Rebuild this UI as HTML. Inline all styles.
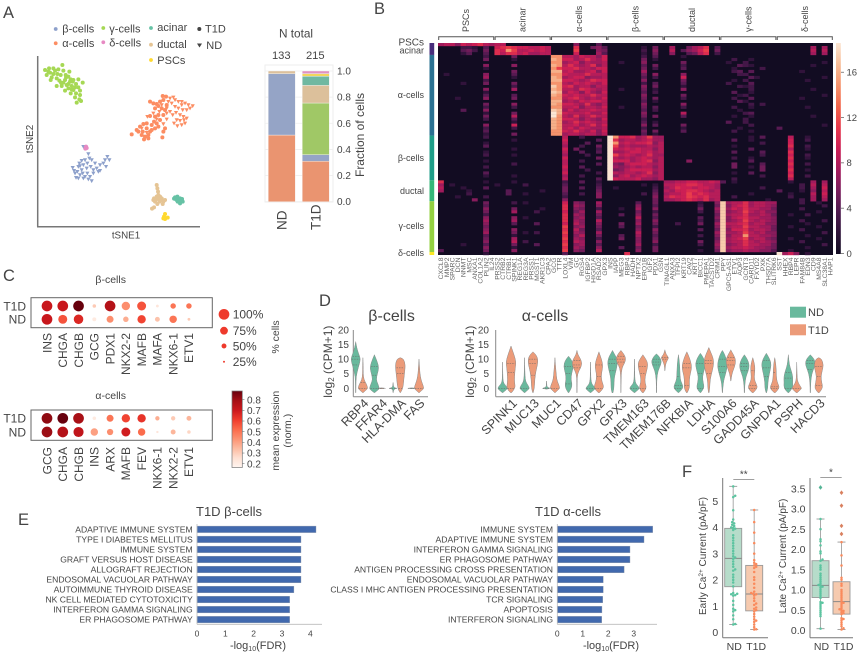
<!DOCTYPE html>
<html lang="en">
<head>
<meta charset="utf-8">
<title>Islet single-cell figure</title>
<style>
html,body{margin:0;padding:0;background:#fff;width:857px;height:656px;overflow:hidden}
svg{display:block;font-family:"Liberation Sans",Arial,sans-serif;filter:blur(0.35px)}
text{fill:#444}
</style>
</head>
<body>
<svg id="fig" xmlns="http://www.w3.org/2000/svg" width="857" height="656" viewBox="0 0 857 656"></svg>
<script>
/* ---------- Panel A : tSNE (coordinates in arbitrary tSNE units) ---------- */
const tsneGamma=[[135,210],[147,205],[150,218],[140,225],[155,232],[165,212],[175,208],[187,195],[190,212],[182,225],[170,235],[152,240],[160,222],[197,225],[205,230],[195,240],[210,245],[220,240],[248,248],[235,238],[228,252],[215,258],[200,255],[185,258],[170,258],[178,242],[190,248],[205,265],[220,270],[235,262],[228,280],[212,280],[240,285],[225,292],[238,298],[230,308],[243,303],[218,245],[208,215],[160,205],[145,215],[172,222],[195,272],[215,268],[225,262],[240,272],[198,232],[212,238],[183,248],[205,252]];
const tsneAlphaT1D=[[395,403],[410,390],[420,380],[430,372],[415,395],[428,395],[440,385],[425,405],[435,410],[445,405],[432,418],[445,415],[450,395],[440,370],[455,375],[462,365],[450,348],[465,350],[475,345],[470,370],[480,360],[490,345],[495,330],[485,325],[500,315],[490,300],[480,305],[470,312],[460,310],[450,305],[465,325],[475,318],[488,288],[498,290],[487,412],[475,380],[465,385],[455,390],[490,395],[495,385]];
const tsneAlphaND=[[510,295],[505,305],[515,310],[525,300],[535,305],[545,315],[555,310],[565,315],[578,318],[570,325],[560,330],[548,330],[535,325],[525,320],[540,345],[550,350],[560,355],[555,370],[545,375],[532,378],[522,370],[530,360],[540,362],[500,340],[510,335],[500,358],[490,372],[528,338],[518,345],[545,305],[520,292],[485,315],[500,325],[478,335],[442,350],[425,385],[440,398],[460,340],[470,358],[552,360]];
const tsneBeta=[[250,440],[265,462],[268,475],[255,480],[245,482],[238,490],[250,495],[262,490],[275,480],[285,490],[300,495],[310,490],[322,470],[328,480],[315,480],[318,500],[300,512],[272,500],[280,510],[260,505],[245,510],[235,500],[218,503],[225,520],[232,515],[240,525],[228,533],[235,535],[248,520],[255,530],[262,520],[270,530],[275,543],[265,538],[250,535],[280,520],[290,505],[240,498],[222,512],[295,515]];
const tsneDelta=[[258,440],[256,446],[260,444]];
const tsneDuctal=[[470,555],[472,565],[474,575],[470,590],[462,595],[475,595],[485,595],[465,605],[478,605],[490,605],[472,612],[460,600],[482,600],[495,600],[468,598],[480,590],[462,622],[456,626],[475,585],[488,612]];
const tsneAcinar=[[525,592],[532,590],[540,595],[545,600],[548,605],[540,610],[533,605],[528,598],[522,596],[535,598],[542,603],[530,600],[538,602],[546,597]];
const tsnePSC=[[495,642],[492,650],[503,653],[495,657],[490,655]];

/* ---------- Panel A : stacked fractions ---------- */
const stackCategories=["ND","T1D"];
const stackTotals=[133,215];
const stackAlpha=[0.51,0.31];
const stackBeta=[0.47,0.05];
const stackGamma=[0,0.395];
const stackDuctal=[0.02,0.135];
const stackAcinar=[0,0.07];
const stackPSC=[0,0.02];
const stackDelta=[0,0.02];
const fractionTicks=[0,0.2,0.4,0.6,0.8,1];

/* ---------- Panel B : heatmap ---------- */
const heatGroups=["PSCs","acinar","α-cells","β-cells","ductal","γ-cells","δ-cells"];
const heatGroupRows=[1,3,27,15,7,17,1];
const heatTicks=[0,4,8,12,16];
const heatGenes=["CXCL8","MMP2","SPARC","DCN","NNMT","MSC","ANXA1","COL1A2","PLIN2","IL24","PRSS2","CTRB2","CTRB1","SPINK1","REG1A","REG3A","PRSS1","MGST1","AKR1C3","CPA2","GCG","TTR","LOXL4","VIM","GC","RGS4","IGFBP2","HIGD1A","RSAD2","GPX3","INS","IAPP","MEG3","RBP4","HADH","NPTX2","ERO1B","IGF2","PDX1","GSN","TINAGL1","ANXA3","TFPI2","KRT19","CAV2","KRT7","BICC1","PMEPA1","TACSTD2","CRIM1","PPY","GPC5-AS1","ETV1","AQP3","GCNT3","CARD11","FXYD2","PXK","THSD7A","SLITRK6","SST","HHEX","RBP4","LEPR","FAM84B","EDN3","CD9","MS4A8","SLC38A1","HAP1"];
/* one hex digit per gene: digits 0-b = expression, c-f = digit x 1.2 */
const heatRows=[
"7886989a87 8800000000 0000600040 0000000000 0000000000 0000000000 0000000000",
"0000332040 9aba998898 0000a00564 0000002050 0700578a04 0000000000 0000007070",
"0000453050 a9cb889898 0000b00065 0000003060 0804679b05 0000000000 0000008080",
"0000240040 a8aa897788 0000900074 0000002050 0600458a03 0000000000 0000007070",
"0000000030 0005000000 cc88798869 0000003040 0002000000 0000000000 0000000000",
"0000000050 0002000000 dc9978a879 0000005020 0000000000 0030020000 0000000000",
"0000000000 0000000000 cc78968778 0020006000 0005000000 0200300000 0000000020",
"0000000060 0006000000 dc8a878a68 0000004050 0003000000 0004320000 0000002000",
"0000000020 0000000000 cb99a88799 0000005030 0004000000 0020000300 0000000000",
"0000000000 0005000000 dd89778969 0000007000 0000000000 0034040000 0000200000",
"0200000060 0004000000 cc9888a888 0000005060 0006000000 0003300000 0000000000",
"0000000070 0002000000 dc78996778 0000004030 0009000000 0000042000 0000000020",
"0000000030 0000000000 dd99878a99 0000006000 0005000000 0020300000 0000020000",
"0000200050 0005000000 cc87989879 0000003040 0004000000 0300040000 0000000000",
"0000000000 0003000000 ec9a788688 0000006050 0002000000 0003230000 0000000000",
"0000000060 0007000000 dc887a9878 0020005020 0006000000 0000030000 0000002000",
"0000000020 0000000000 ed79869769 0000004030 0000000000 0040020000 0000000000",
"0000000040 0004000000 dc98988a88 0000006000 0005000000 0002300000 0000000020",
"0002000060 0005000000 cc89a87879 0000005050 0003000000 0030040000 0000200000",
"0000000000 0000000000 dd78798998 0000004020 0000000000 0004200000 0000000000",
"0000000050 0006000000 dc9987a768 0000006000 0006000000 0000030300 0000000000",
"0000000030 0003000000 cc88968879 0020005040 0003000000 0030020000 0000020000",
"0000400060 0000000000 ed79788988 0000004030 0000000000 0002000000 0000000000",
"0000000020 0005000000 fd98889779 0000006000 0008000000 0000340000 0000000000",
"0000000050 0008000000 fc87a78a88 0000005050 0004000000 0020020000 0000002000",
"0000000030 0004000000 dc99868769 0000003000 0000000000 0000300000 0000000000",
"0000000000 0002000000 dc78a89878 0000004020 0000000000 0400300000 0000000000",
"0000000060 0009000000 dc88978a79 0000006040 0005000000 0000030000 0000000020",
"0000000030 0003000000 dc89798778 0000003000 0002000000 0002000000 4000000000",
"0000000040 0000000000 cc98a87969 0000005050 0004000000 0030020000 0000000000",
"0000000020 0005000000 cc78878868 0000004020 0000000000 0000000000 0000000000",
"0000000030 0000000000 0080030000 fc99a78b77 0000000000 0000020400 0080020000",
"0000000000 0002000000 0090000040 fa78878977 0000000000 0040020000 0090030000",
"0000000020 0000000000 0080004000 fc89899a68 0000000000 0000000300 0090000000",
"0000000040 0000000000 0070030050 fb78777878 0000000000 0020000000 00a0030000",
"0000000000 0002000000 0090500030 f989898868 0000000000 0000040000 0080020000",
"0000000020 0000000000 0080040040 f778998978 0000000000 0040000400 00a0000000",
"0000000030 0002000000 0070003000 fb89878a77 0000000000 0000000300 0090030000",
"0000000000 0000000000 0090000050 f878789878 0000000000 0030020000 00a0020000",
"0000000020 0000000000 0080030000 f999789a68 0000600000 0000040000 0090000000",
"0000000000 0003000000 0080000040 f658999878 0000000000 0050000400 00a0030000",
"0000000030 0000000000 0090040000 f767878868 0000000000 0050020500 0090000000",
"0000000000 0000000000 0080003000 f568999978 0000000000 0000000500 00a0020000",
"0000000040 0000000000 0090000030 f878878a68 0000000000 0020040000 0090000000",
"0000000020 0002000000 0070030000 f689789878 0000000000 0000000300 00a0030000",
"0000000000 0000000000 0080000040 f988897768 0000000000 0030000000 0080000000",
"a000000020 0002000000 0030040020 0000000000 7788998898 4020000000 0020007070",
"7020000000 2000030000 0040000030 0000002020 8899aa9887 0000000000 0000308080",
"8000200040 0000000000 0050040040 0200000030 78a9989987 0000000300 0000307090",
"7000020000 0040000020 0050000050 0000000040 8799aa9878 0000000000 4000206080",
"0000030000 0040020000 0040030060 0000003050 7889b9a988 0000020000 0020008090",
"0002000030 0000000000 0030000060 0000000060 8a99ba9a88 0030000000 0030007080",
"0000006000 0000000000 0060000000 0000000050 7789a98a78 0000000020 0000307070",
"0000000050 0003020000 0090650070 0000040050 0000002006 e788a78877 0000300200",
"0000000040 0000000000 00a0760060 0000060040 0000003005 e689a78876 0000000030",
"0000000060 0005000020 00a0650030 0020070060 0000005007 e798a88775 0000300000",
"0000000050 0007000300 0090570070 0000050030 0000003006 e678b87866 0000000200",
"0000000030 0000000000 00a0760050 0040060050 0000000005 e788a77875 0020030000",
"0000000060 0006020000 00a0670040 0000080040 0000004006 e689a88776 0000000000",
"0000000070 0007000000 00a0760080 0000060060 0000003005 e678b87876 0000300030",
"0000000060 0004000400 0090860060 0050070050 0030005007 e889a78866 0000020000",
"0000000050 0000000000 00b0670050 0040050030 0000000006 e788b88775 0020000200",
"0000000060 0006000000 00a0850040 0000060060 0000004005 e699a78875 0000300000",
"0000000070 0005020300 00b0760070 0000080050 0000000007 e778b87866 0000000030",
"0000000040 0002000000 00a0680050 0040070040 0000003006 e688c88776 0000020000",
"0000000050 0007000000 00b0760030 0050060050 0000000005 e789b78865 0020000200",
"0000000060 0008030000 00a0870060 0000060060 0000005006 e788a87876 0000300000",
"0000200040 0005000400 00b0670040 0000070030 0000003007 e678a88775 0000000030",
"0000000060 0002000000 00a0760060 0040050050 0000000006 e788987765 0000020000",
"4000000050 0006000000 00b0650080 0000060050 0000002005 e677877664 0020000000",
"0000000020 0000000000 0040000000 000a000000 0000000000 0000000000 f796020000"
];

/* ---------- Panel C : dot plots ---------- */
const dotGenesBeta=["INS","CHGA","CHGB","GCG","PDX1","NKX2-2","MAFB","MAFA","NKX6-1","ETV1"];
const dotPctBetaT1D=[100,100,100,38,100,80,85,32,55,55];
const dotExprBetaT1D=[0.7,0.7,0.88,0.28,0.75,0.42,0.55,0.2,0.48,0.48];
const dotPctBetaND=[100,85,90,42,68,55,80,50,72,32];
const dotExprBetaND=[0.7,0.55,0.65,0.18,0.42,0.35,0.58,0.3,0.48,0.28];
const dotGenesAlpha=["GCG","CHGA","CHGB","INS","ARX","MAFB","FEV","NKX6-1","NKX2-2","ETV1"];
const dotPctAlphaT1D=[100,100,100,38,68,80,80,45,45,50];
const dotExprAlphaT1D=[0.82,0.88,0.78,0.18,0.48,0.58,0.62,0.35,0.28,0.33];
const dotPctAlphaND=[100,100,95,72,62,85,72,28,50,38];
const dotExprAlphaND=[0.8,0.75,0.72,0.38,0.42,0.68,0.5,0.2,0.33,0.25];
const sizeLegend=[100,75,50,25];
const exprTicks=[0.2,0.3,0.4,0.5,0.6,0.7,0.8];

/* ---------- Panel D : violins, density outline as [log2cpm,width] pairs ---------- */
const violinTicks=[0,5,10,15,20];
const violinGenesBeta=["RBP4","FFAR4","HLA-DMA","FAS"];
const violinBetaND=[
[[-1.5,.04],[1,.05],[4,.08],[7,.5],[10,1],[12,.55],[14,.2],[16,0]],
[[-1.5,.05],[-.5,.8],[0,1],[1.5,.7],[3,.35],[5,.6],[7,.9],[9,.6],[11.5,0]],
[[-1.5,.02],[-.2,.1],[0,1],[.2,.1],[2,.02]],
[[-.15,0],[0,1],[.15,0]]];
const violinBetaT1D=[
[[-1.5,.05],[-.5,.7],[0,1],[1.5,.7],[3,.2],[5,.06],[8,.06],[10.5,0]],
[[-.15,0],[0,1],[.15,0]],
[[-1.5,.03],[-.5,.4],[1,.6],[3,.7],[6,.9],[8,1],[10,.7],[10.5,0]],
[[-1.5,.05],[-.5,.7],[0,1],[1.5,.7],[3,.4],[5,.2],[7,.12],[10,0]]];
const quartBetaND=[[8,10,11],[0,4.5,7.5],[0],[0]];
const quartBetaT1D=[[0,2],[0],[0,5,7],[0]];
const violinGenesAlpha=["SPINK1","MUC13","MUC1","CD47","GPX2","GPX3","TMEM163","TMEM176B","NFKBIA","LDHA","S100A6","GADD45A","GNPDA1","PSPH","HACD3"];
const violinAlphaND=[
[[-1.5,.05],[-.6,.7],[0,1],[.8,.7],[2,.1],[5,.04],[9,0]],
[[-1.5,.05],[-.5,.7],[0,1],[1,.7],[2.5,.15],[6,.05],[10.5,0]],
[[-.3,0],[0,1],[.3,.1],[1.5,.04],[2.5,0]],
[[-1.5,.05],[0,.6],[1.5,.7],[3,.5],[5,.6],[7.5,1],[9.5,.7],[11,0]],
[[-1.5,.05],[-.6,.7],[0,1],[.8,.6],[2,.1],[6,.03],[9,0]],
[[-1.5,.1],[0,.3],[2,.3],[4,.4],[6,.7],[8.5,1],[10.5,.8],[12,.3],[13,0]],
[[-1.5,.05],[-.6,.7],[0,1],[.8,.7],[2,.1],[6,.04],[10,0]],
[[-1.5,.03],[3,.04],[6,.3],[8,.85],[9.5,1],[11,.5],[11.8,0]],
[[-1.5,.05],[0,1],[1.5,.75],[3,.35],[6,.3],[9,.2],[11.5,0]],
[[-1.5,.05],[0,.8],[2,.55],[4,.4],[6.5,.8],[8.5,1],[10.5,.6],[12,0]],
[[-1.5,.03],[2,.15],[5,.65],[7.5,1],[10,.8],[12,.35],[13,0]],
[[-1.5,.04],[1,.06],[4,.3],[6,.8],[8,1],[10,.6],[11.5,0]],
[[-1.5,.05],[0,.3],[2,.3],[5,.6],[8,1],[10,.7],[12,0]],
[[-1.5,.08],[0,.9],[2,.85],[4,.9],[6,.6],[8,.2],[11.5,0]],
[[-1.5,.04],[2,.06],[5,.3],[7,.75],[8.5,1],[10,.8],[11.5,0]]];
const violinAlphaT1D=[
[[-1.5,.1],[0,.9],[2,.7],[4,.7],[7,.85],[9,1],[11,.7],[13,.3],[14.5,0]],
[[-1.5,.05],[0,.3],[3,.35],[6,.6],[8,.9],[10,1],[11.5,.6],[12.5,0]],
[[-1.5,.05],[-.4,.7],[0,1],[1.5,.7],[3,.35],[6,.2],[8,.1],[10.5,0]],
[[-1.5,.03],[2,.04],[5,.1],[7,.75],[8.5,1],[10,.75],[11.5,.2],[13,0]],
[[-1.5,.1],[0,1],[1.5,.8],[3,.5],[5,.5],[7.5,.8],[9.5,.6],[11,.3],[12.5,0]],
[[-1.5,.02],[4,.04],[7,.2],[8.5,.7],[10,1],[11.5,.7],[13,0]],
[[-1.5,.1],[0,.8],[2,.4],[4,.45],[6.5,.85],[8.5,1],[10,.6],[11.5,0]],
[[6,.02],[8,.1],[9.5,.45],[10.5,.8],[11.5,.3],[12.5,.1],[13.2,0]],
[[-1.5,.08],[0,.55],[2,.5],[4,.55],[7,1],[9,.8],[11,.4],[12.5,0]],
[[-1.5,.05],[0,.2],[3,.25],[6,.7],[8.5,1],[10.5,.85],[12.5,.35],[14,0]],
[[2.5,.02],[5,.2],[7.5,.8],[9.5,1],[11,.7],[12.5,.2],[13.2,0]],
[[-1.5,.1],[0,1],[1.5,.7],[3,.3],[5,.35],[7,.45],[9,.25],[10.5,0]],
[[-1.5,.1],[0,1],[1.5,.65],[3,.35],[6,.3],[8.5,.2],[10.5,0]],
[[-1.5,.1],[-.4,.8],[0,1],[1,.6],[2.5,.12],[5,.06],[9,0]],
[[-1.5,.1],[0,.85],[2,.6],[4,.45],[6,.7],[8,.95],[10,.6],[10.5,0]]];
const quartAlphaND=[[0],[0],[0],[1.5,5,7.5],[0],[6,8.5,10],[0],[8,9,10],[0,1,4],[0,5,8.5],[5.5,7.5,10],[6,7.5,8.5],[4,7,9.5],[0,3.5,5.5],[6.5,8.5,9.5]];
const quartAlphaT1D=[[0,5.5,8.5],[4.5,8.5,10],[0],[7,8,9.5],[0,4,8],[9,10,11],[0,5,7.5],[10,10.5],[1,7,8.5],[5,8.5,9.5],[8,9.5,10.5],[0,1,6],[0,.5,5.5],[0],[1,4,7.5]];

/* ---------- Panel E : pathway enrichment ---------- */
const pathwaysBeta=["ADAPTIVE IMMUNE SYSTEM","TYPE I DIABETES MELLITUS","IMMUNE SYSTEM","GRAFT VERSUS HOST DISEASE","ALLOGRAFT REJECTION","ENDOSOMAL VACUOLAR PATHWAY","AUTOIMMUNE THYROID DISEASE","NK CELL MEDIATED CYTOTOXICITY","INTERFERON GAMMA SIGNALING","ER PHAGOSOME PATHWAY"];
const fdrBeta=[4.2,3.67,3.67,3.67,3.67,3.67,3.42,3.27,3.27,3.27];
const fdrBetaTicks=[0,1,2,3,4];
const pathwaysAlpha=["IMMUNE SYSTEM","ADAPTIVE IMMUNE SYSTEM","INTERFERON GAMMA SIGNALING","ER PHAGOSOME PATHWAY","ANTIGEN PROCESSING CROSS PRESENTATION","ENDOSOMAL VACUOLAR PATHWAY","CLASS I MHC ANTIGEN PROCESSING PRESENTATION","TCR SIGNALING","APOPTOSIS","INTERFERON SIGNALING"];
const fdrAlpha=[3.74,3.4,2.85,2.85,2.62,1.8,1.8,1.78,1.75,1.74];
const fdrAlphaTicks=[0,1,2,3];

/* ---------- Panel F : currents ---------- */
const earlyTicks=[0,1,2,3,4,5];
const lateTicks=[0,0.5,1,1.5,2,2.5,3,3.5];
const earlyND=[5.56,5.2,5.15,4.65,4.3,4.2,4.15,4.1,4.05,4,3.98,3.95,3.9,3.7,3.6,3.5,3.4,3.3,3.2,3.1,3,2.9,2.85,2.8,2.7,2.6,2.5,2.4,2.35,2.2,2.1,2,1.9,1.75,1.5,1.47,1.45,1.42,1.4,1.2,1.05,0.9,0.85,0.8,0.65,0.5,0.32,0.3];
const earlyT1D=[4.66,4.2,3.8,3.4,3,2.75,2.65,2.6,2.55,2.5,2.45,2.3,2.1,2,1.85,1.7,1.55,1.5,1.47,1.45,1.4,1.3,1.2,1.1,1.05,0.95,0.9,0.85,0.8,0.7,0.6,0.5,0.45,0.4,0.3,0.2,0.12,0.11];
const lateND=[3.53,2.75,2.5,2.25,2.2,2.1,1.95,1.9,1.75,1.72,1.6,1.55,1.5,1.4,1.35,1.3,1.25,1.2,1.15,1.12,1.1,1.08,1.05,1,0.95,0.9,0.85,0.8,0.7,0.68,0.65,0.6,0.55,0.5,0.45,0.4,0.35,0.04];
const lateT1D=[3.4,3.08,2.58,2.38,2.18,1.85,1.6,1.3,1.25,1.15,1.1,1,0.95,0.9,0.85,0.8,0.75,0.7,0.68,0.65,0.6,0.55,0.52,0.5,0.48,0.45,0.42,0.4,0.3,0.28,0.25,0.2,0.15,0.1,0.05,0.02];
/* [low whisker, q1, median, q3, high whisker] */
const earlyBoxND=[0.3,1.74,2.82,3.96,5.56];
const earlyBoxT1D=[0.11,0.82,1.46,2.55,4.66];
const lateBoxND=[0.04,0.81,1.11,1.72,2.75];
const lateBoxT1D=[0.02,0.4,0.71,1.2,2.18];

/* ---------- helpers ---------- */
const NS="http://www.w3.org/2000/svg";
const fig=document.getElementById('fig');
function mk(tag,attrs,parent,name){
  const el=document.createElementNS(NS,tag);
  for(const k in attrs)el.setAttribute(k,attrs[k]);
  
  
  (parent||fig).appendChild(el);
  return el;
}
function txt(x,y,str,size,name,opt){
  opt=opt||{};
  const a={x:x,y:y,'font-size':size,'text-anchor':opt.anchor||'start'};
  if(opt.rot!==undefined)a.transform='rotate('+opt.rot+' '+x+' '+y+')';
  if(opt.color)a.style='fill:'+opt.color;
  const el=mk('text',a,opt.parent||fig,name);
  el.textContent=str;
  return el;
}
function line(x1,y1,x2,y2,stroke,w,name,parent,dash){
  const a={x1:x1,y1:y1,x2:x2,y2:y2,stroke:stroke,'stroke-width':w};
  if(dash)a['stroke-dasharray']=dash;
  return mk('line',a,parent||fig,name);
}
function lerpColor(stops,t){
  t=Math.max(0,Math.min(1,t))*(stops.length-1);
  const i=Math.min(Math.floor(t),stops.length-2),f=t-i;
  const p=s=>[parseInt(s.slice(1,3),16),parseInt(s.slice(3,5),16),parseInt(s.slice(5,7),16)];
  const a=p(stops[i]),b=p(stops[i+1]);
  return 'rgb('+a.map((v,j)=>Math.round(v+(b[j]-v)*f)).join(',')+')';
}
const rocket=["#120c22","#2d1238","#4e1a4f","#7a1c5c","#a51b5c","#cc1f55","#e8384b","#f2654a","#f5936c","#f7bd98","#fbe6d4"];
const reds=["#fff5f0","#fee0d2","#fcbba1","#fc9272","#fb6a4a","#ef3b2c","#cb181d","#a50f15","#67000d"];
const C={alpha:"#fc8d62",beta:"#8da0cb",gamma:"#a6d854",delta:"#e78ac3",ductal:"#e5c494",acinar:"#66c2a5",psc:"#ffd92f"};

/* panel letters */
[["A",3,18],["B",374,14],["C",3,281],["D",319,306],["E",18,525],["F",682,477]].forEach(p=>{
  txt(p[1],p[2],p[0],16.5,'panel-label-'+p[0].toLowerCase());
});

/* ---------- Panel A tSNE ---------- */
(function(){
  const g=mk('g',{},fig,'tsne-plot');
  const tx=v=>37.7+(v-113)/3, ty=v=>56+(v-168)/3;
  line(37.7,56,37.7,226.7,'#777',1.5,'tsne-y-axis',g);
  line(37,226.7,200,226.7,'#777',1.5,'tsne-x-axis',g);
  const circles=(arr,c,name)=>arr.forEach(p=>{mk('circle',{cx:tx(p[0]),cy:ty(p[1]),r:2,fill:c},g,name);});
  const tris=(arr,c,name)=>arr.forEach(p=>{const x=tx(p[0]),y=ty(p[1]);mk('path',{d:`M${x-2.1} ${y-1.7}H${x+2.1}L${x} ${y+2.1}Z`,fill:c},g,name);});
  circles(tsneGamma,C.gamma,'tsne-point-gamma');
  circles(tsneAlphaT1D,C.alpha,'tsne-point-alpha-t1d');
  tris(tsneAlphaND,C.alpha,'tsne-point-alpha-nd');
  tris(tsneBeta,C.beta,'tsne-point-beta');
  circles(tsneDelta,C.delta,'tsne-point-delta');
  circles(tsneDuctal,C.ductal,'tsne-point-ductal');
  circles(tsneAcinar,C.acinar,'tsne-point-acinar');
  circles(tsnePSC,C.psc,'tsne-point-psc');
  txt(126,238.7,'tSNE1',9.8,'tsne-x-title',{anchor:'middle'});
  txt(33,139,'tSNE2',9.8,'tsne-y-title',{anchor:'middle',rot:-90});
  [["β-cells",55.7,29,62.3,32.5,C.beta],["α-cells",55.7,43.3,62.3,47,C.alpha],["γ-cells",103.3,28,109.3,32.5,C.gamma],["δ-cells",103.3,42.3,109.3,46.5,C.delta],["acinar",151,28,157.3,31,C.acinar],["ductal",151,44.7,157.3,48,C.ductal],["PSCs",151,60,157.3,64.2,C.psc]].forEach(l=>{
    mk('circle',{cx:l[1],cy:l[2],r:1.9,fill:l[5]},g,'legend-dot');
    txt(l[3],l[4],l[0],11,'legend-label');
  });
  mk('circle',{cx:199.3,cy:29,r:2,fill:'#444'},g,'legend-marker-t1d');
  txt(205,32.5,'T1D',11,'legend-label-t1d');
  mk('path',{d:'M197 43.5H202L199.5 47.5Z',fill:'#444'},g,'legend-marker-nd');
  txt(206.3,49,'ND',11,'legend-label-nd');
})();

/* ---------- Panel A stacked bars ---------- */
(function(){
  const g=mk('g',{},fig,'stacked-bar-chart');
  const x0=265,x1=333,yS=v=>201.7-v*130.7;
  mk('rect',{x:x0,y:65,width:x1-x0,height:137,fill:'#fff',stroke:'#eee','stroke-width':1},g,'stack-frame');
  fractionTicks.forEach(t=>{
    line(x0,yS(t),x1,yS(t),'#eee',0.8,'stack-gridline',g);
    txt(337,yS(t)+3.5,t.toFixed(1),10,'stack-y-tick');
  });
  const series=[[stackAlpha,'#ea9470','alpha'],[stackBeta,'#95a4c6','beta'],[stackGamma,'#a0c866','gamma'],[stackDuctal,'#dcc09b','ductal'],[stackAcinar,'#70b8a1','acinar'],[stackPSC,'#f2d65b','psc'],[stackDelta,'#e092c2','delta']];
  const barX=[268.3,302.3];
  stackCategories.forEach((cat,i)=>{
    let acc=0;
    series.forEach(s=>{
      if(s[0][i]>0){
        mk('rect',{x:barX[i],y:yS(acc+s[0][i]),width:27,height:yS(acc)-yS(acc+s[0][i]),fill:s[1],stroke:'#f4f4f4','stroke-width':.4},g,'stack-segment-'+s[2]);
        acc+=s[0][i];
      }
    });
    txt(barX[i]+18,230,cat,13.5,'stack-x-label',{rot:-90});
    txt(barX[i]+13,59,String(stackTotals[i]),11.2,'stack-total',{anchor:'middle'});
  });
  txt(296,37.7,'N total',11.8,'stack-total-title',{anchor:'middle'});
  txt(364,135,'Fraction of cells',12,'stack-y-title',{anchor:'middle',rot:-90});
})();

/* ---------- Panel B heatmap ---------- */
(function(){
  const g=mk('g',{},fig,'heatmap');
  const x0=438,w=395/70,top=43,rh=212/71;
  const cols=heatGenes.length;
  mk('rect',{x:x0,y:top,width:w*cols,height:rh*heatRows.length,fill:rocket[0]},g,'heatmap-background');
  const val=d=>{const n=parseInt(d,16);return n<=11?n:n*1.2;};
  const xC=j=>x0+j*w, yR=i=>top+i*rh;
  heatRows.forEach((row,i)=>{
    const s=row.replace(/ /g,'');
    for(let j=0;j<cols;j++){
      const v=val(s[j]||'0');
      if(v>0)mk('rect',{x:xC(j),y:yR(i),width:w+.2,height:rh+.2,fill:lerpColor(rocket,v/18)},g,'heatmap-cell');
    }
  });
  /* row side colours and labels */
  const stripCols=['#472d7b','#472d7b','#2a7092','#1f9e89','#35b779','#93d041','#fde725'];
  const labelY=[45.5,53.5,98,161,194,229,256];
  let acc=0;
  heatGroups.forEach((name,k)=>{
    const h=heatGroupRows[k]*rh;
    mk('rect',{x:429.5,y:yR(acc),width:4.7,height:h,fill:stripCols[k]},g,'row-color-strip');
    txt(424,labelY[k],name,k===0?10:9,'heatmap-row-label',{anchor:'end'});
    acc+=heatGroupRows[k];
  });
  /* column brackets */
  const labels=["PSCs","acinar","α-cells","β-cells","ductal","γ-cells","δ-cells"];
  labels.forEach((name,k)=>{
    const a=x0+k*w*10+.7,b=x0+(k+1)*w*10-.7;
    mk('path',{d:`M${a} 40V36.7H${b}V40`,fill:'none',stroke:'#555','stroke-width':1},g,'column-bracket');
    txt((a+b)/2+3,32,name,9,'heatmap-column-group-label',{rot:-90});
  });
  heatGenes.forEach((gene,j)=>{
    txt(xC(j)+w/2+2.3,257.5,gene,6.8,'gene-label',{anchor:'end',rot:-90,color:'#666'});
  });
  /* colorbar */
  const by=v=>253.5-v*11.33;
  const defs=mk('defs',{},g,'heatmap-colorbar-defs');
  const lg=mk('linearGradient',{id:'rk',x1:0,y1:1,x2:0,y2:0},defs,'rocket-gradient');
  rocket.forEach((c,i)=>{mk('stop',{offset:i/(rocket.length-1),'stop-color':c},lg,'gradient-stop');});
  mk('rect',{x:836,y:43,width:4.8,height:211,fill:'url(#rk)'},g,'heatmap-colorbar');
  heatTicks.forEach(t=>{
    line(841,by(t),844,by(t),'#555',.7,'heatmap-colorbar-tick',g);
    txt(846.5,by(t)+3.3,String(t),9.5,'heatmap-colorbar-label');
  });
})();

/* ---------- Panel C dot plots ---------- */
(function(){
  const g=mk('g',{},fig,'dot-plots');
  const rad=p=>1+(p-25)*0.058;
  const col=e=>lerpColor(reds,(e-0.13)/0.75);
  const xD=i=>47+i*15.77;
  function panel(y0,y1,rowT,rowN,genes,pT,eT,pN,eN,title,titleY,labEnd,nm){
    mk('rect',{x:31,y:y0,width:181.3,height:y1-y0,fill:'#fff',stroke:'#666','stroke-width':1},g,nm+'-frame');
    txt(110.7,titleY,title,10.5,nm+'-title',{anchor:'middle'});
    txt(26,rowT+4.3,'T1D',12,nm+'-row-t1d',{anchor:'end'});
    txt(26,rowN+4.3,'ND',12,nm+'-row-nd',{anchor:'end'});
    genes.forEach((gene,i)=>{
      mk('circle',{cx:xD(i),cy:rowT,r:rad(pT[i]),fill:col(eT[i])},g,nm+'-dot-t1d');
      mk('circle',{cx:xD(i),cy:rowN,r:rad(pN[i]),fill:col(eN[i])},g,nm+'-dot-nd');
      txt(xD(i)+4.3,labEnd,gene,12,nm+'-gene-label',{anchor:'end',rot:-90});
    });
  }
  panel(297.7,327.7,306,319.3,dotGenesBeta,dotPctBetaT1D,dotExprBetaT1D,dotPctBetaND,dotExprBetaND,'β-cells',283,333,'beta-dots');
  panel(410,440.3,418.3,432,dotGenesAlpha,dotPctAlphaT1D,dotExprAlphaT1D,dotPctAlphaND,dotExprAlphaND,'α-cells',399,447,'alpha-dots');
  const ly=[314.3,330.7,346,361.7];
  sizeLegend.forEach((p,i)=>{
    mk('circle',{cx:224,cy:ly[i],r:rad(p),fill:'#ee3a2c'},g,'size-legend-dot');
    txt(232.7,ly[i]+4.3,p+'%',12,'size-legend-label');
  });
  txt(279,337,'% cells',10.5,'size-legend-title',{anchor:'middle',rot:-90});
  /* colourbar */
  const defs=mk('defs',{},g,'expression-defs');
  const lg=mk('linearGradient',{id:'rd',x1:0,y1:1,x2:0,y2:0},defs,'reds-gradient');
  reds.forEach((c,i)=>{mk('stop',{offset:i/(reds.length-1),'stop-color':c},lg,'gradient-stop');});
  mk('rect',{x:232,y:391,width:10.3,height:76.5,fill:'url(#rd)',stroke:'#777','stroke-width':.7},g,'expression-colorbar');
  const cy=v=>463.7-(v-0.2)*106.7;
  exprTicks.forEach(t=>{
    line(242.3,cy(t),244.5,cy(t),'#777',.6,'expression-tick',g);
    txt(247,cy(t)+3.6,t.toFixed(1),10,'expression-tick-label');
  });
  txt(279,430.7,'mean expression',10.5,'expression-title',{anchor:'middle',rot:-90});
  txt(291,430.7,'(norm.)',10.5,'expression-title-unit',{anchor:'middle',rot:-90});
})();

/* ---------- Panel D violins ---------- */
(function(){
  const g=mk('g',{},fig,'violin-plots');
  const yV=v=>388.3-v*2.917;
  const halfW=5;
  function widthAt(prof,y){
    for(let i=0;i<prof.length-1;i++){
      if(y>=prof[i][0]&&y<=prof[i+1][0]){
        const f=(y-prof[i][0])/((prof[i+1][0]-prof[i][0])||1);
        return prof[i][1]+(prof[i+1][1]-prof[i][1])*f;
      }
    }
    return 0;
  }
  function violin(cx,prof,q,fill,name){
    const right=prof.map(p=>[cx+p[1]*halfW,yV(p[0])]);
    const left=prof.map(p=>[cx-p[1]*halfW,yV(p[0])]).reverse();
    const pts=right.concat(left);
    let d='M'+pts[0][0].toFixed(2)+' '+pts[0][1].toFixed(2);
    for(let i=1;i<pts.length-1;i++){
      const mx=(pts[i][0]+pts[i+1][0])/2,my=(pts[i][1]+pts[i+1][1])/2;
      d+='Q'+pts[i][0].toFixed(2)+' '+pts[i][1].toFixed(2)+' '+mx.toFixed(2)+' '+my.toFixed(2);
    }
    d+='L'+pts[pts.length-1][0].toFixed(2)+' '+pts[pts.length-1][1].toFixed(2)+'Z';
    mk('path',{d:d,fill:fill,stroke:'#8a8a8a','stroke-width':.5},g,name);
    q.forEach(v=>{
      const w=widthAt(prof,v)*halfW*.8;
      line(cx-w,yV(v),cx+w,yV(v),'#666',.5,name+'-quartile',g,'1.5 1');
    });
  }
  function axisBlock(axX,endX,tickX,labX,nm){
    line(axX,330,axX,396.7,'#888',1,nm+'-y-axis',g);
    line(axX,396.7,endX,396.7,'#888',1,nm+'-x-axis',g);
    violinTicks.forEach(t=>{
      txt(tickX,yV(t)+3.5,String(t),10,nm+'-y-tick',{anchor:'end'});
    });
    const lab=txt(labX,361.7,'log',12,nm+'-y-title',{anchor:'middle',rot:-90});
    const s=mk('tspan',{'font-size':8,dy:2},lab,nm+'-y-title-sub');
    s.textContent='2';
    const r=mk('tspan',{dy:-2},lab,nm+'-y-title-rest');
    r.textContent=' (CPM+1)';
  }
  axisBlock(353.3,428,349,332,'beta-violin');
  axisBlock(495.7,826,489,474,'alpha-violin');
  const xB=i=>359.3+i*18.7;
  violinGenesBeta.forEach((gene,i)=>{
    violin(xB(i)-3.6,violinBetaND[i],quartBetaND[i],'#69b99d','violin-beta-nd');
    violin(xB(i)+3.6,violinBetaT1D[i],quartBetaT1D[i],'#ec9b79','violin-beta-t1d');
    txt(xB(i)+10,404,gene,12.5,'violin-beta-gene-label',{anchor:'end',rot:-45});
  });
  const xA=i=>506.8+i*21.98;
  violinGenesAlpha.forEach((gene,i)=>{
    violin(xA(i)-4.2,violinAlphaND[i],quartAlphaND[i],'#69b99d','violin-alpha-nd');
    violin(xA(i)+4.2,violinAlphaT1D[i],quartAlphaT1D[i],'#ec9b79','violin-alpha-t1d');
    txt(xA(i)+11,404,gene,12.5,'violin-alpha-gene-label',{anchor:'end',rot:-45});
  });
  txt(368.3,321,'β-cells',16,'violin-beta-title');
  txt(521.7,321,'α-cells',16,'violin-alpha-title');
  mk('rect',{x:790,y:306.7,width:16,height:11,fill:'#69b99d'},g,'violin-legend-nd-swatch');
  txt(808,316,'ND',11,'violin-legend-nd-label');
  mk('rect',{x:790,y:324.3,width:16,height:11,fill:'#ec9b79'},g,'violin-legend-t1d-swatch');
  txt(808,334,'T1D',11,'violin-legend-t1d-label');
})();

/* ---------- Panel E enrichment bars ---------- */
(function(){
  const g=mk('g',{},fig,'pathway-bars');
  function chart(axX,perUnit,endX,names,vals,ticks,title,titleX,xlabX,nm){
    const xS=v=>axX+v*perUnit, yS=i=>529.3+i*10.03;
    txt(titleX,516,title,13,nm+'-title');
    names.forEach((n,i)=>{
      mk('rect',{x:axX,y:yS(i)-3.2,width:xS(vals[i])-axX,height:6.5,fill:'#4169ae',stroke:'#8f99a8','stroke-width':.4},g,nm+'-bar');
      txt(axX-4.3,yS(i)+3,n,8.6,nm+'-pathway-label',{anchor:'end'});
    });
    line(axX,524,axX,624.3,'#bbb',.8,nm+'-y-axis',g);
    line(axX,624.3,endX,624.3,'#bbb',.8,nm+'-x-axis',g);
    ticks.forEach(t=>{
      txt(xS(t),636.3,String(t),8.5,nm+'-x-tick',{anchor:'middle'});
    });
    const l=txt(xlabX,649,'-log',11,nm+'-x-title',{anchor:'middle'});
    const s=mk('tspan',{'font-size':7,dy:2},l,nm+'-x-title-sub');
    s.textContent='10';
    const r=mk('tspan',{dy:-2},l,nm+'-x-title-rest');
    r.textContent='(FDR)';
  }
  chart(197,28.33,322,pathwaysBeta,fdrBeta,fdrBetaTicks,'T1D β-cells',196,258,'beta-pathway');
  chart(557.3,25.5,657,pathwaysAlpha,fdrAlpha,fdrAlphaTicks,'T1D α-cells',535,611,'alpha-pathway');
})();

/* ---------- Panel F box plots ---------- */
(function(){
  const g=mk('g',{},fig,'current-box-plots');
  function swarm(values,yS,cx,whiskHi,fill,flier,nm){
    const placed=[];
    values.slice().sort((a,b)=>a-b).forEach(v=>{
      const y=yS(v);
      let off=0,step=0;
      const hit=o=>placed.some(p=>Math.hypot(p[0]-o,p[1]-y)<1.9);
      while(hit(off)){step++;off=(step%2?1:-1)*Math.ceil(step/2)*1;}
      placed.push([off,y]);
      if(v>whiskHi){
        const x=cx,s=2.3;
        mk('path',{d:`M${x} ${y-s}L${x+s*.8} ${y}L${x} ${y+s}L${x-s*.8} ${y}Z`,fill:flier},g,nm+'-outlier');
      }else{
        mk('circle',{cx:cx+off,cy:y,r:1.25,fill:fill},g,nm+'-point');
      }
    });
  }
  function box(stats,yS,xa,xb,fill,nm){
    const cx=(xa+xb)/2;
    line(cx,yS(stats[4]),cx,yS(stats[3]),'#aaa',1,nm+'-whisker',g);
    line(cx,yS(stats[1]),cx,yS(stats[0]),'#aaa',1,nm+'-whisker',g);
    line(cx-4,yS(stats[4]),cx+4,yS(stats[4]),'#999',.9,nm+'-cap',g);
    line(cx-4,yS(stats[0]),cx+4,yS(stats[0]),'#999',.9,nm+'-cap',g);
    mk('rect',{x:xa,y:yS(stats[3]),width:xb-xa,height:yS(stats[1])-yS(stats[3]),fill:fill,stroke:'#999','stroke-width':.9},g,nm+'-box');
    line(xa,yS(stats[2]),xb,yS(stats[2]),'#888',1,nm+'-median',g);
  }
  function chart(axX,endX,yS,ticks,fmt,labX,labelMain,xa,ndBox,t1Box,nd,t1,brX1,brX2,brY,star,nm){
    line(axX,478,axX,637.7,'#777',1,nm+'-y-axis',g);
    line(axX,637.7,endX,637.7,'#777',1,nm+'-x-axis',g);
    ticks.forEach(t=>{
      txt(axX-4.5,yS(t)+3.8,fmt(t),10.5,nm+'-y-tick',{anchor:'end'});
    });
    const l=txt(labX,556,labelMain,10,nm+'-y-title',{anchor:'middle',rot:-90});
    const s=mk('tspan',{'font-size':6.5,dy:-3},l,nm+'-y-title-sup');
    s.textContent='2+';
    const r=mk('tspan',{dy:3},l,nm+'-y-title-rest');
    r.textContent=' Current (pA/pF)';
    const bw=17;
    box(ndBox,yS,xa,xa+bw,'#b6dcca',nm+'-nd');
    box(t1Box,yS,xa+21,xa+21+bw,'#f6caaf',nm+'-t1d');
    swarm(nd,yS,xa+bw/2,ndBox[4],'#5cc4a0','#55b596',nm+'-nd');
    swarm(t1,yS,xa+21+bw/2,t1Box[4],'#fa8a5c','#d9805f',nm+'-t1d');
    txt(xa+bw/2+1,650,'ND',10.5,nm+'-x-label-nd',{anchor:'middle'});
    txt(xa+21+bw/2+2,650,'T1D',10.5,nm+'-x-label-t1d',{anchor:'middle'});
    line(brX1,brY,brX2,brY,'#666',.7,nm+'-significance-bracket',g);
    txt((brX1+brX2)/2,brY-2,star,10,nm+'-significance-stars',{anchor:'middle'});
  }
  const yE=v=>632.4-v*26.27, yL=v=>630.3-v*40.47;
  chart(722.7,768,yE,earlyTicks,t=>String(t),706,'Early Ca',724.7,earlyBoxND,earlyBoxT1D,earlyND,earlyT1D,733.3,754.3,479.3,'**','early-current');
  chart(810,853,yL,lateTicks,t=>t.toFixed(1),786,'Late Ca',812,lateBoxND,lateBoxT1D,lateND,lateT1D,820.3,841.7,477.3,'*','late-current');
})();
</script>
</body>
</html>
